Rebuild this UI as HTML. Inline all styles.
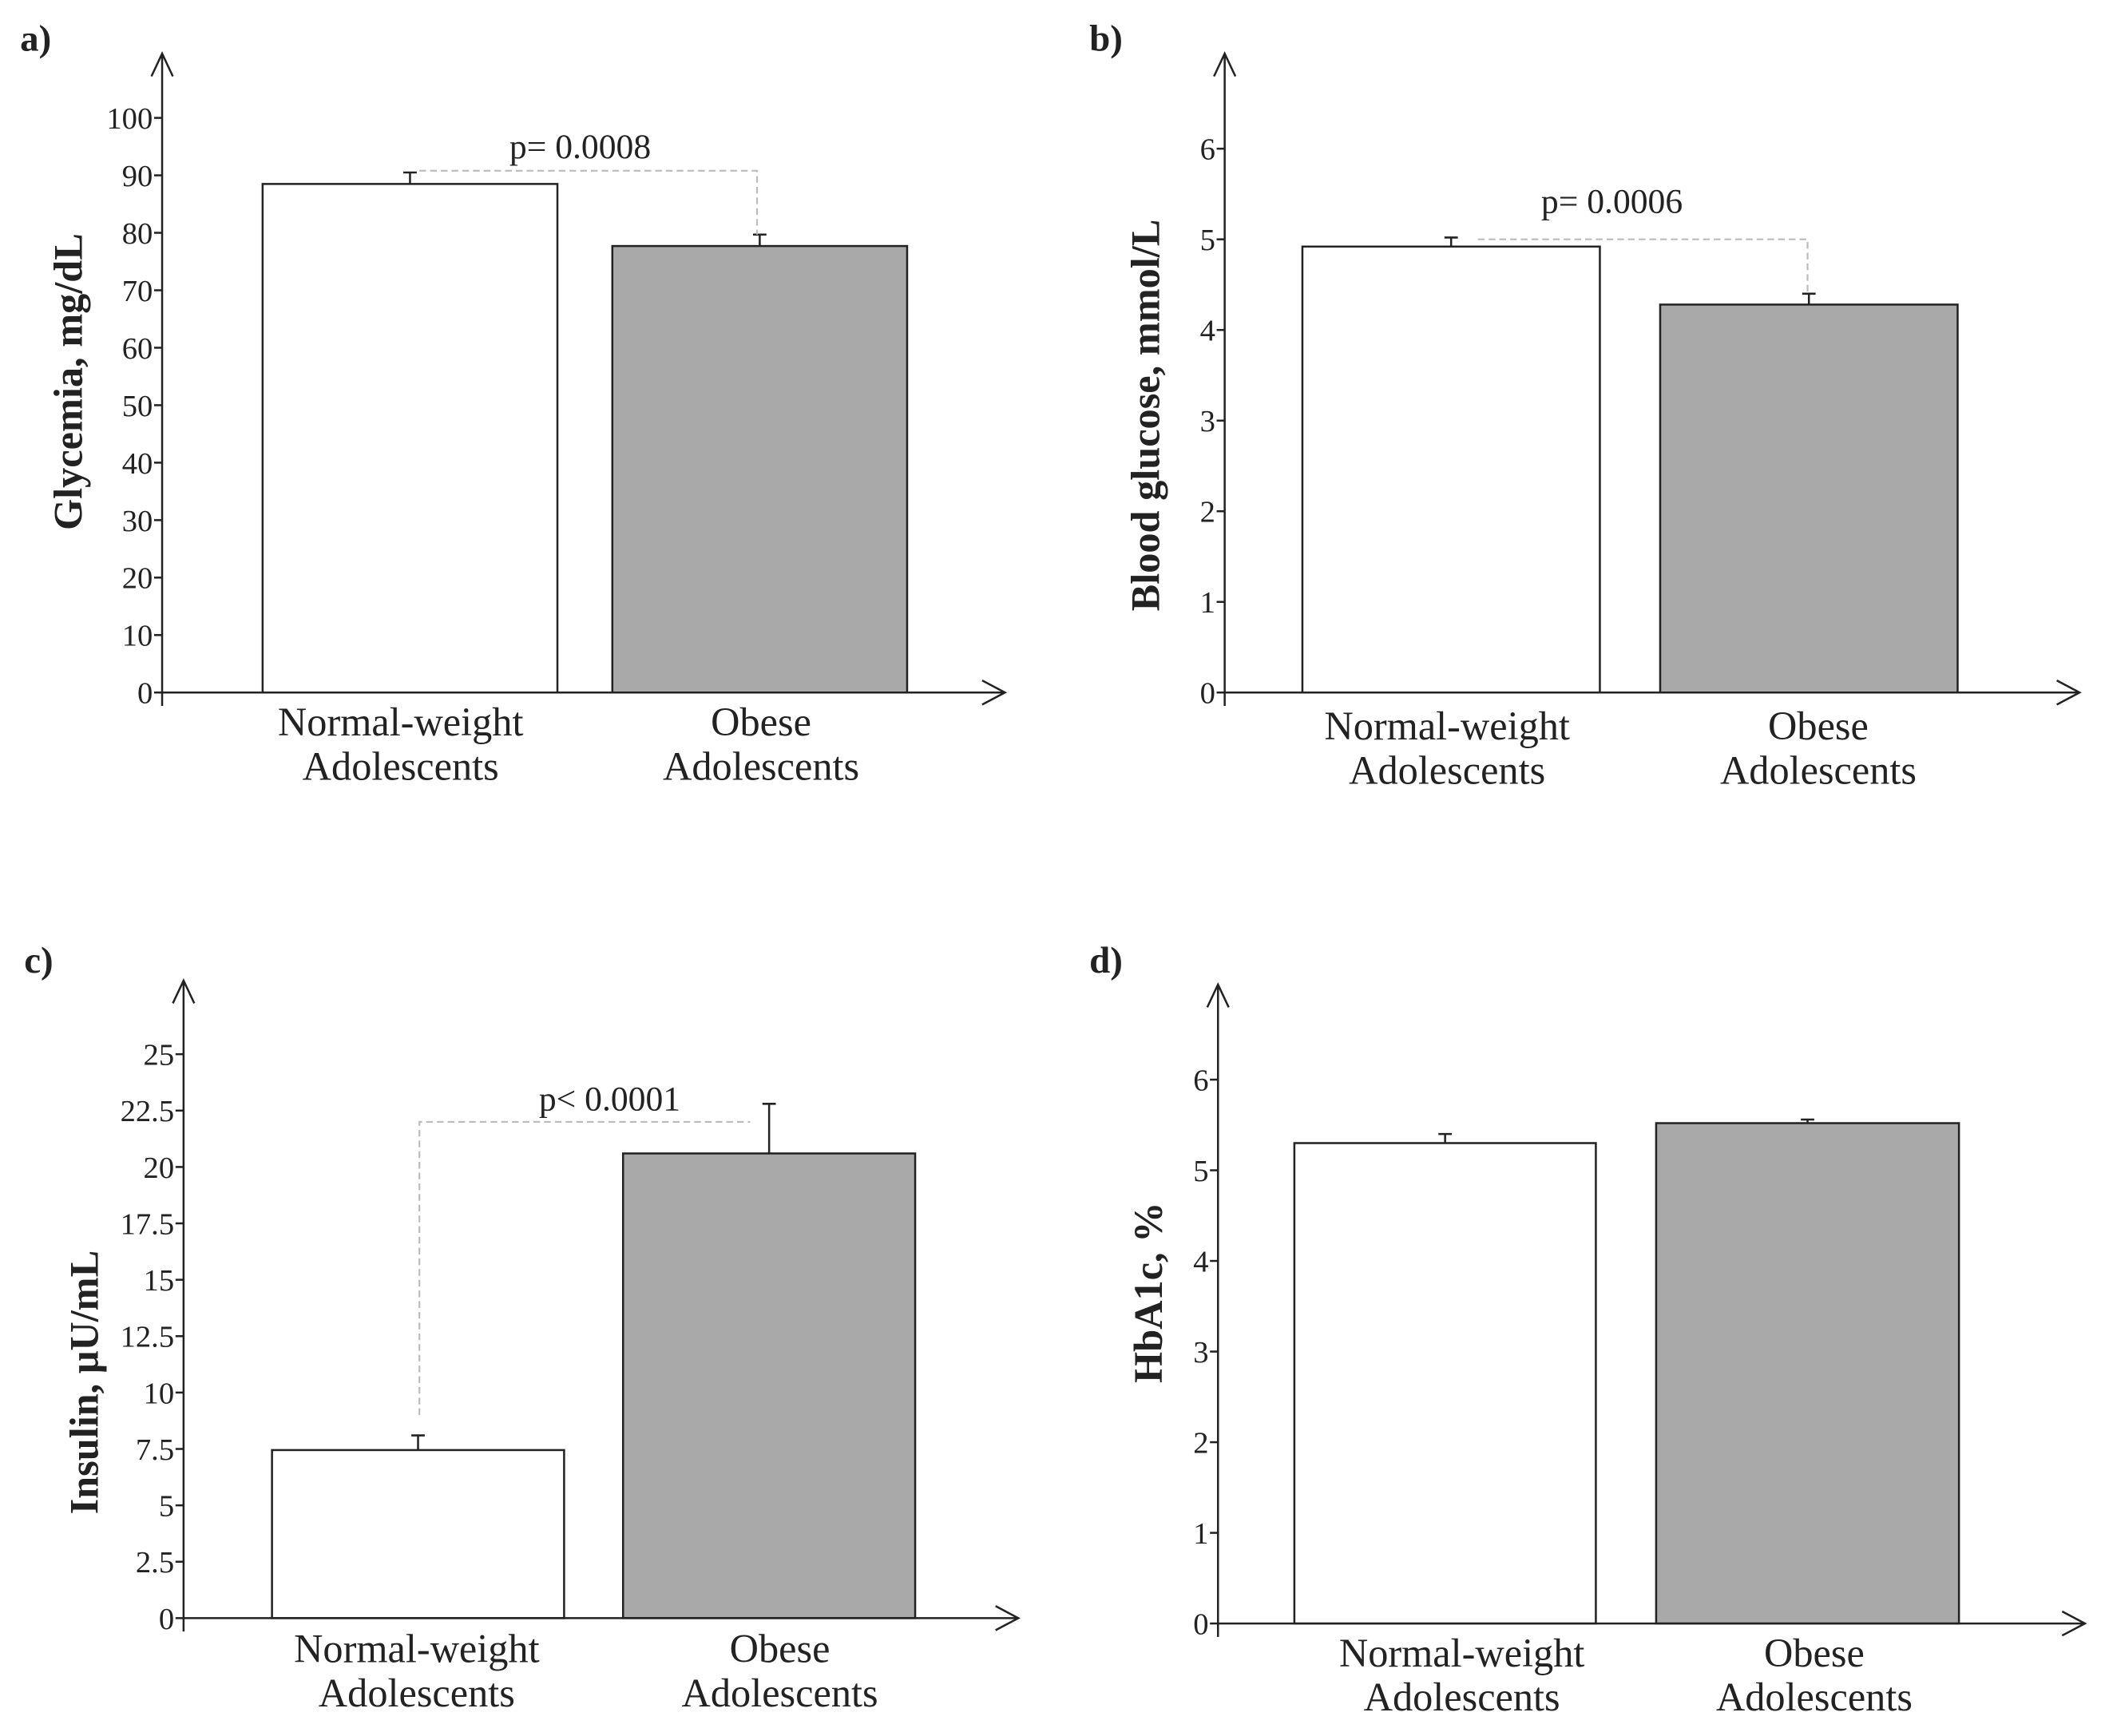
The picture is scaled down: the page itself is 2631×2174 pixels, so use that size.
<!DOCTYPE html>
<html><head><meta charset="utf-8"><style>
html,body{margin:0;padding:0;background:#fff}
svg{display:block}
text{font-family:"Liberation Serif",serif;fill:#222}
</style></head><body>
<svg id="fig" width="2631" height="2174" viewBox="0 0 1568 1296" preserveAspectRatio="none" xmlns="http://www.w3.org/2000/svg"></svg>
<script>
const categories = ["Normal-weight|Adolescents", "Obese|Adolescents"];
const glycemiaValues = [88.5, 77.7];
const glycemiaErrors = [2.0, 2.0];
const glycemiaTicks = [0,10,20,30,40,50,60,70,80,90,100];
const glucoseValues = [4.92, 4.28];
const glucoseErrors = [0.1, 0.12];
const glucoseTicks = [0,1,2,3,4,5,6];
const insulinValues = [7.45, 20.6];
const insulinErrors = [0.65, 2.2];
const insulinTicks = [0,2.5,5,7.5,10,12.5,15,17.5,20,22.5,25];
const hba1cValues = [5.3, 5.52];
const hba1cErrors = [0.1, 0.04];
const hba1cTicks = [0,1,2,3,4,5,6];
const pLabels = ["p= 0.0008", "p= 0.0006", "p< 0.0001", ""];

const NS = "http://www.w3.org/2000/svg";
const svg = document.getElementById("fig");
function mk(tag, attrs, parent, txt){
  const e = document.createElementNS(NS, tag);
  for (const k in attrs) e.setAttribute(k, attrs[k]);
  if (txt !== undefined) e.textContent = txt;
  (parent || svg).appendChild(e);
  return e;
}
const panels = [
 {id:"a", label:"a)", lx:15, ly:38, ax:121, top:40, y0:517, ymaxPx:88, ymaxV:100, xend:750, bars:[[196,416],[457,677]], vals:glycemiaValues, errs:glycemiaErrors, ticks:glycemiaTicks, title:"Glycemia, mg/dL", tx:61, ty:285, catY:549, catX:[299,568], p:pLabels[0], px:433, py:118, br:{y:90.8,x1:313,x2:565,drop:1}},
 {id:"b", label:"b)", lx:813, ly:38, ax:914, top:40, y0:517, ymaxPx:111, ymaxV:6, xend:1552, bars:[[972,1194],[1239,1461]], vals:glucoseValues, errs:glucoseErrors, ticks:glucoseTicks, title:"Blood glucose, mmol/L", tx:865, ty:310, catY:552, catX:[1080,1357], p:pLabels[1], px:1203, py:159, br:{y:5.0,x1:1103,x2:1349,drop:1}},
 {id:"c", label:"c)", lx:18, ly:726, ax:137, top:732, y0:1208, ymaxPx:787, ymaxV:25, xend:760, bars:[[203,421],[465,683]], vals:insulinValues, errs:insulinErrors, ticks:insulinTicks, title:"Insulin, \u03bcU/mL", tx:73, ty:1032, catY:1241, catX:[311,582], p:pLabels[2], px:455, py:829, br:{y:22.0,x1:313,x2:560,drop:0,from:9.0}},
 {id:"d", label:"d)", lx:813, ly:726, ax:909, top:735, y0:1212, ymaxPx:806, ymaxV:6, xend:1556, bars:[[966,1191],[1236,1462]], vals:hba1cValues, errs:hba1cErrors, ticks:hba1cTicks, title:"HbA1c, %", tx:867, ty:965, catY:1244, catX:[1091,1354], p:"", br:null}
];
panels.forEach(P => {
  const g = mk("g", {});
  
  
  const yS = v => P.y0 - (v / P.ymaxV) * (P.y0 - P.ymaxPx);
  const lab = mk("text", {x:P.lx, y:P.ly, "font-size":28, "font-weight":"bold"}, g, P.label);
  
  
  P.vals.forEach((v, i) => {
    const [x1, x2] = P.bars[i];
    const r = mk("rect", {x:x1, y:yS(v), width:x2 - x1, height:P.y0 - yS(v), fill: i ? "#a9a9a9" : "#fff", stroke:"#222", "stroke-width":1.5}, g);
    
    
    const cx = (x1 + x2) / 2, ye = yS(v + P.errs[i]);
    const e = mk("path", {d:`M${cx},${yS(v)}V${ye}M${cx-5},${ye}H${cx+5}`, stroke:"#222", "stroke-width":1.5, fill:"none"}, g);
    
    
    const lines = categories[i].split("|");
    lines.forEach((ln, k) => {
      const t = mk("text", {x:P.catX[i], y:P.catY + k * 33, "font-size":30, "text-anchor":"middle"}, g, ln);
      
      
    });
  });
  const ya = mk("path", {d:`M${P.ax},${P.y0+10}V${P.top}M${P.ax-8},${P.top+17}L${P.ax},${P.top}L${P.ax+8},${P.top+17}`, stroke:"#222", "stroke-width":1.5, fill:"none"}, g);
  
  
  const xa = mk("path", {d:`M${P.ax},${P.y0}H${P.xend}M${P.xend-17},${P.y0-9}L${P.xend},${P.y0}L${P.xend-17},${P.y0+9}`, stroke:"#222", "stroke-width":1.5, fill:"none"}, g);
  
  
  P.ticks.forEach(tv => {
    const y = yS(tv);
    const tk = mk("line", {x1:P.ax-6, x2:P.ax, y1:y, y2:y, stroke:"#222", "stroke-width":1.5}, g);
    
    
    const tl = mk("text", {x:P.ax-7, y:y+8, "font-size":23, "text-anchor":"end"}, g, String(tv));
    
    
  });
  const tt = mk("text", {x:P.tx, y:P.ty, "font-size":30, "font-weight":"bold", "text-anchor":"middle", transform:`rotate(-90 ${P.tx} ${P.ty})`}, g, P.title);
  
  
  if (P.br) {
    const by = yS(P.br.y);
    let d;
    if (P.br.drop) {
      const ye = yS(P.vals[1] + P.errs[1]);
      d = `M${P.br.x1},${by}H${P.br.x2}V${ye}`;
    } else {
      d = `M${P.br.x1},${yS(P.br.from)}V${by}H${P.br.x2}`;
    }
    const b = mk("path", {d:d, stroke:"#bbb", "stroke-width":1.3, "stroke-dasharray":"5,3", fill:"none"}, g);
    
    
    const pt = mk("text", {x:P.px, y:P.py, "font-size":26, "text-anchor":"middle"}, g, P.p);
    
    
  }
});
</script>
</body></html>
